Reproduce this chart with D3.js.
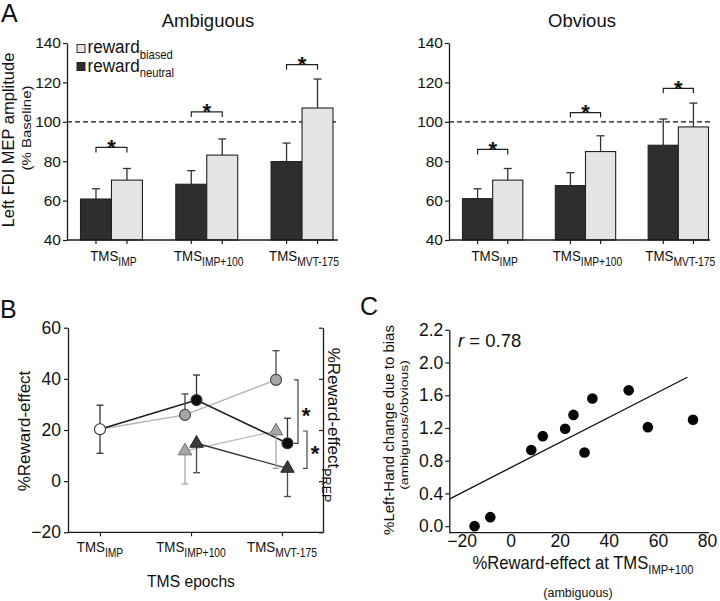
<!DOCTYPE html>
<html><head><meta charset="utf-8">
<script src="https://cdn.jsdelivr.net/npm/d3@7"></script>
<style>
body{margin:0;background:#fff}
svg{display:block}
text{font-family:"Liberation Sans",Arial,Helvetica,sans-serif;fill:#111}
</style>
</head><body>
<svg id="c" width="720" height="601"></svg>
<script>
// ---------------- DATA ----------------
// Panel A
const aCategories = ["IMP", "IMP+100", "MVT-175"];
const aConditions = ["neutral", "biased"];
const ambNeutral = [60.8, 68.3, 79.8];
const ambNeutralErr = [5.2, 6.9, 9.4];
const ambBiased = [70.4, 83.1, 107.0];
const ambBiasedErr = [5.9, 8.2, 14.7];
const obvNeutral = [61.0, 67.6, 88.1];
const obvNeutralErr = [5.0, 6.6, 13.3];
const obvBiased = [70.4, 84.9, 97.4];
const obvBiasedErr = [5.9, 8.0, 12.1];
const ambSigY = [87.0, 105.0, 129.0];
const obvSigY = [86.0, 104.7, 117.0];
const aYTicks = [40, 60, 80, 100, 120, 140];
const aBaselineRef = 100;
const aTitles = ["Ambiguous", "Obvious"];

// Panel B
const bCategories = ["IMP", "IMP+100", "MVT-175"];
const bCircleBlack = [20.3, 31.7, 14.8];
const bCircleBlackErr = [9.4, 9.8, 9.8];
const bCircleGray = [20.3, 25.9, 39.6];
const bCircleGrayErr = [9.4, 8.2, 11.4];
const bTriGray = [null, 11.8, 19.6];
const bTriGrayErr = [null, 12.9, 14.6];
const bTriDark = [null, 14.8, 5.0];
const bTriDarkErr = [null, 11.5, 11.0];
const bYTicks = [-20, 0, 20, 40, 60];
const bSigPairs = [[39.6, 14.8], [19.6, 5.0]];

// Panel C
const cX = [-14.7, -8.3, 8.4, 13.1, 22.2, 25.6, 30.1, 33.3, 48.1, 55.9, 74.3];
const cY = [0.0, 0.11, 0.93, 1.10, 1.19, 1.36, 0.90, 1.56, 1.66, 1.21, 1.30];
const cFitX = [-25, 72];
const cFitY = [0.33, 1.82];
const cXTicks = [-20, 0, 20, 40, 60, 80];
const cYTickValues = [0, 0.4, 0.8, 1.2, 1.6, 2.0, 2.4];
const cYTickLabels = ["0.0", "0.4", "0.8", "1.2", "1.6", "2.0", "2.2"];
const cR = "0.78";

// ---------------- HELPERS ----------------
const svg = d3.select("#c");
const INK = "#1a1a1a";

function styleAxis(g, size) {
  g.attr("font-family", "Liberation Sans, Arial, sans-serif").attr("font-size", size);
  g.select(".domain").attr("stroke", INK).attr("stroke-width", 1.3);
  g.selectAll(".tick line").attr("stroke", INK).attr("stroke-width", 1.2);
  g.selectAll(".tick text").attr("fill", "#111");
}
function txt(parent, x, y, s, size, opt = {}) {
  const g = parent.append("g")
    .attr("transform", `translate(${x},${y}) rotate(${opt.rot || 0}) scale(${opt.sx || 1},${opt.sy || 1})`);
  const t = g.append("text").attr("font-size", size)
    .attr("text-anchor", opt.anchor || "middle");
  if (opt.italic) t.attr("font-style", "italic");
  if (opt.weight) t.attr("font-weight", opt.weight);
  t.append("tspan").text(s);
  if (opt.sub) {
    t.append("tspan").attr("font-size", opt.subSize).attr("dy", opt.subSize * 0.45).text(opt.sub);
  }
  return t;
}
function errBar(g, x, y0, y1, cap, color, w) {
  g.append("line").attr("x1", x).attr("x2", x).attr("y1", y0).attr("y2", y1)
    .attr("stroke", color).attr("stroke-width", w || 1.3);
  g.append("line").attr("x1", x - cap / 2).attr("x2", x + cap / 2).attr("y1", y1).attr("y2", y1)
    .attr("stroke", color).attr("stroke-width", w || 1.3);
}

// ---------------- PANEL A ----------------
function barPanel(opt) {
  const g = svg.append("g");
  const y = d3.scaleLinear().domain([40, 140]).range([240, 43]);
  const x = d3.scaleBand().domain(aCategories).range([opt.b0, opt.b1]).paddingInner(0.35);
  const xs = d3.scaleBand().domain(aConditions).range([0, x.bandwidth()]);
  const series = { neutral: [opt.neutral, opt.neutralErr], biased: [opt.biased, opt.biasedErr] };
  const fills = { neutral: "#2e2e2e", biased: "#e4e4e4" };

  g.append("line").attr("x1", opt.ax0).attr("x2", opt.ax1)
    .attr("y1", y(aBaselineRef)).attr("y2", y(aBaselineRef))
    .attr("stroke", "#111").attr("stroke-width", 1.3).attr("stroke-dasharray", "5,3");

  aCategories.forEach((c, i) => {
    aConditions.forEach(k => {
      const v = series[k][0][i], e = series[k][1][i];
      const bx = x(c) + xs(k);
      const cx = bx + xs.bandwidth() / 2;
      errBar(g, cx, y(v), y(v + e), 8, "#333", 1.3);
      g.append("rect").attr("x", bx).attr("y", y(v))
        .attr("width", xs.bandwidth()).attr("height", y(40) - y(v))
        .attr("fill", fills[k]).attr("stroke", "#222").attr("stroke-width", 1.1);
    });
    const xa = x(c) + xs("neutral") + xs.bandwidth() / 2;
    const xb = x(c) + xs("biased") + xs.bandwidth() / 2;
    const by = y(opt.sig[i]);
    g.append("path").attr("d", `M${xa},${by + 5}V${by}H${xb}V${by + 5}`)
      .attr("fill", "none").attr("stroke", "#222").attr("stroke-width", 1.2);
    txt(g, (xa + xb) / 2, by + 7.5, "*", 22, { weight: "bold" });
  });

  const ya = g.append("g").attr("transform", `translate(${opt.ax0},0)`)
    .call(d3.axisLeft(y).tickValues(aYTicks).tickSize(4).tickSizeOuter(0).tickPadding(2));
  styleAxis(ya, 15.5);
  g.append("line").attr("x1", opt.ax0).attr("x2", opt.ax1).attr("y1", y(40)).attr("y2", y(40))
    .attr("stroke", INK).attr("stroke-width", 1.3);
  aCategories.forEach(c => {
    aConditions.forEach(k => {
      const cx = x(c) + xs(k) + xs.bandwidth() / 2;
      g.append("line").attr("x1", cx).attr("x2", cx).attr("y1", y(40)).attr("y2", y(40) + 4)
        .attr("stroke", INK).attr("stroke-width", 1.2);
    });
    txt(g, x(c) + x.bandwidth() / 2 + 2, 260.5, "TMS", 15.5, { sx: 0.86, sub: c, subSize: 12 });
  });
  txt(g, opt.titleX, 27, opt.title, 18.5);
  return { g, x, y };
}

barPanel({ b0: 80.5, b1: 333, ax0: 67, ax1: 338, neutral: ambNeutral, neutralErr: ambNeutralErr,
  biased: ambBiased, biasedErr: ambBiasedErr, sig: ambSigY, title: aTitles[0], titleX: 208 });
barPanel({ b0: 462.5, b1: 708.5, ax0: 449, ax1: 710, neutral: obvNeutral, neutralErr: obvNeutralErr,
  biased: obvBiased, biasedErr: obvBiasedErr, sig: obvSigY, title: aTitles[1], titleX: 582 });

// legend
{
  const g = svg.append("g");
  g.append("rect").attr("x", 77).attr("y", 44.5).attr("width", 8).attr("height", 8)
    .attr("fill", "#e4e4e4").attr("stroke", "#333").attr("stroke-width", 1);
  g.append("rect").attr("x", 77).attr("y", 62.5).attr("width", 8).attr("height", 8)
    .attr("fill", "#2e2e2e").attr("stroke", "#222").attr("stroke-width", 1);
  txt(g, 87.5, 53, "reward", 19, { anchor: "start", sx: 0.9, sub: "biased", subSize: 12.5 });
  txt(g, 87.5, 71.5, "reward", 19, { anchor: "start", sx: 0.9, sub: "neutral", subSize: 12.5 });
}
txt(svg, 14, 140, "Left FDI MEP amplitude", 16.5, { rot: -90, sy: 0.95 });
txt(svg, 31, 128, "(% Baseline)", 15, { rot: -90, sy: 0.9 });
txt(svg, 1, 22, "A", 25, { anchor: "start" });

// ---------------- PANEL B ----------------
{
  const g = svg.append("g");
  const X0 = 68, X1 = 323;
  const y = d3.scaleLinear().domain([-20, 60]).range([532.3, 327.7]);
  const x = d3.scalePoint().domain(bCategories).range([100, 282]);
  const dodgeGray = -6, dodgeBlack = 5.5;
  const px = (i, d) => x(bCategories[i]) + (i === 0 ? 0 : d);

  const ya = g.append("g").attr("transform", `translate(${X0},0)`)
    .call(d3.axisLeft(y).tickValues(bYTicks).tickSize(4).tickSizeOuter(0).tickPadding(3));
  styleAxis(ya, 17.5);
  const yr = g.append("g").attr("transform", `translate(${X1},0)`)
    .call(d3.axisLeft(y).tickValues(bYTicks).tickSize(4).tickSizeOuter(0).tickFormat(""));
  styleAxis(yr, 12);
  const xa = g.append("g").attr("transform", `translate(0,${y(-20)})`)
    .call(d3.axisBottom(x).tickSize(4).tickSizeOuter(0).tickFormat(""));
  xa.select(".domain").remove();
  styleAxis(xa, 12);
  g.append("line").attr("x1", X0).attr("x2", X1).attr("y1", y(-20)).attr("y2", y(-20))
    .attr("stroke", INK).attr("stroke-width", 1.3);
  bCategories.forEach(c => {
    txt(g, x(c), 552, "TMS", 15.5, { sx: 0.86, sub: c, subSize: 12 });
  });
  txt(g, 191, 587, "TMS epochs", 16.5, { sx: 0.95 });
  txt(g, 30, 431, "%Reward-effect", 17, { rot: -90, sy: 0.95 });
  txt(g, 327.5, 425, "%Reward-effect", 17, { rot: 90, sy: 0.95, sub: "PREP", subSize: 12.5 });
  txt(g, 0, 318, "B", 25, { anchor: "start" });

  const line = d3.line().defined(d => d[1] != null).x(d => d[0]).y(d => y(d[1]));
  const pts = (arr, d) => arr.map((v, i) => [px(i, d), v]);

  g.append("path").attr("d", line(pts(bTriGray, dodgeGray))).attr("fill", "none")
    .attr("stroke", "#bdbdbd").attr("stroke-width", 1.4);
  g.append("path").attr("d", line(pts(bTriDark, dodgeBlack))).attr("fill", "none")
    .attr("stroke", "#3a3a3a").attr("stroke-width", 1.4);
  g.append("path").attr("d", line(pts(bCircleGray, dodgeGray))).attr("fill", "none")
    .attr("stroke", "#b3b3b3").attr("stroke-width", 1.4);
  g.append("path").attr("d", line(pts(bCircleBlack, dodgeBlack))).attr("fill", "none")
    .attr("stroke", "#1a1a1a").attr("stroke-width", 1.5);

  bTriGray.forEach((v, i) => { if (v != null) errBar(g, px(i, dodgeGray), y(v), y(v - bTriGrayErr[i]), 7, "#a8a8a8", 1.3); });
  bTriDark.forEach((v, i) => { if (v != null) errBar(g, px(i, dodgeBlack), y(v), y(v - bTriDarkErr[i]), 7, "#4a4a4a", 1.3); });
  bCircleGray.forEach((v, i) => { if (i > 0) errBar(g, px(i, dodgeGray), y(v), y(v + bCircleGrayErr[i]), 7, "#444", 1.3); });
  bCircleBlack.forEach((v, i) => {
    errBar(g, px(i, dodgeBlack), y(v), y(v + bCircleBlackErr[i]), 7, "#333", 1.3);
    if (i === 0) errBar(g, px(i, 0), y(v), y(v - bCircleBlackErr[i]), 7, "#333", 1.3);
  });

  const tri = d3.symbol(d3.symbolTriangle, 78);
  bTriGray.forEach((v, i) => { if (v != null) g.append("path").attr("d", tri())
    .attr("transform", `translate(${px(i, dodgeGray)},${y(v)})`).attr("fill", "#a6a6a6").attr("stroke", "#6e6e6e").attr("stroke-width", 1); });
  bTriDark.forEach((v, i) => { if (v != null) g.append("path").attr("d", tri())
    .attr("transform", `translate(${px(i, dodgeBlack)},${y(v)})`).attr("fill", "#3a3a3a").attr("stroke", "#222").attr("stroke-width", 1); });
  bCircleGray.forEach((v, i) => { if (i > 0) g.append("circle").attr("cx", px(i, dodgeGray)).attr("cy", y(v)).attr("r", 5.5)
    .attr("fill", "#a6a6a6").attr("stroke", "#444").attr("stroke-width", 1.1); });
  bCircleBlack.forEach((v, i) => { g.append("circle").attr("cx", px(i, dodgeBlack)).attr("cy", y(v)).attr("r", 5.5)
    .attr("fill", i === 0 ? "#fff" : "#0d0d0d").attr("stroke", "#333").attr("stroke-width", 1.1); });

  const bx = [x(bCategories[2]) + 16, x(bCategories[2]) + 25];
  bSigPairs.forEach((p, k) => {
    const y0 = y(p[0]), y1 = y(p[1]);
    g.append("path").attr("d", `M${bx[k] - 4},${y0}H${bx[k]}V${y1}H${bx[k] - 4}`)
      .attr("fill", "none").attr("stroke", "#444").attr("stroke-width", 1.2);
    txt(g, bx[k] + 8, (y0 + y1) / 2 + 11, "*", 22, { weight: "bold" });
  });
}

// ---------------- PANEL C ----------------
{
  const g = svg.append("g");
  const x = d3.scaleLinear().domain([-25, 80]).range([449.3, 707]);
  const y = d3.scaleLinear().domain([-0.08, 2.4]).range([532.7, 329.8]);
  const ya = g.append("g").attr("transform", `translate(449.3,0)`)
    .call(d3.axisLeft(y).tickValues(cYTickValues).tickFormat((d, i) => cYTickLabels[i])
      .tickSize(4).tickSizeOuter(0).tickPadding(2));
  styleAxis(ya, 17.5);
  const xa = g.append("g").attr("transform", `translate(0,532.7)`)
    .call(d3.axisBottom(x).tickValues(cXTicks).tickSize(0).tickSizeOuter(0).tickPadding(2));
  xa.select(".domain").remove();
  styleAxis(xa, 17.5);
  g.append("line").attr("x1", 449.3).attr("x2", 709).attr("y1", 532.7).attr("y2", 532.7)
    .attr("stroke", INK).attr("stroke-width", 1.3);

  g.append("line").attr("x1", x(cFitX[0])).attr("x2", x(cFitX[1]))
    .attr("y1", y(cFitY[0])).attr("y2", y(cFitY[1]))
    .attr("stroke", "#111").attr("stroke-width", 1.3);
  cX.forEach((v, i) => g.append("circle").attr("cx", x(v)).attr("cy", y(cY[i])).attr("r", 5.3).attr("fill", "#050505"));

  const rt = g.append("text").attr("x", 458).attr("y", 346.5).attr("font-size", 18.5);
  rt.append("tspan").attr("font-style", "italic").text("r");
  rt.append("tspan").text(" = " + cR);

  txt(g, 394, 430, "%Left-Hand change due to bias", 15, { rot: -90, sy: 0.95 });
  txt(g, 407.5, 425, "(ambiguous/obvious)", 14, { rot: -90, sy: 0.8 });
  txt(g, 583, 568.5, "%Reward-effect at TMS", 18.5, { sx: 0.9, sub: "IMP+100", subSize: 12.5 });
  txt(g, 578, 597, "(ambiguous)", 12.5);
  txt(g, 360, 315, "C", 25, { anchor: "start" });
}
</script>
</body></html>
